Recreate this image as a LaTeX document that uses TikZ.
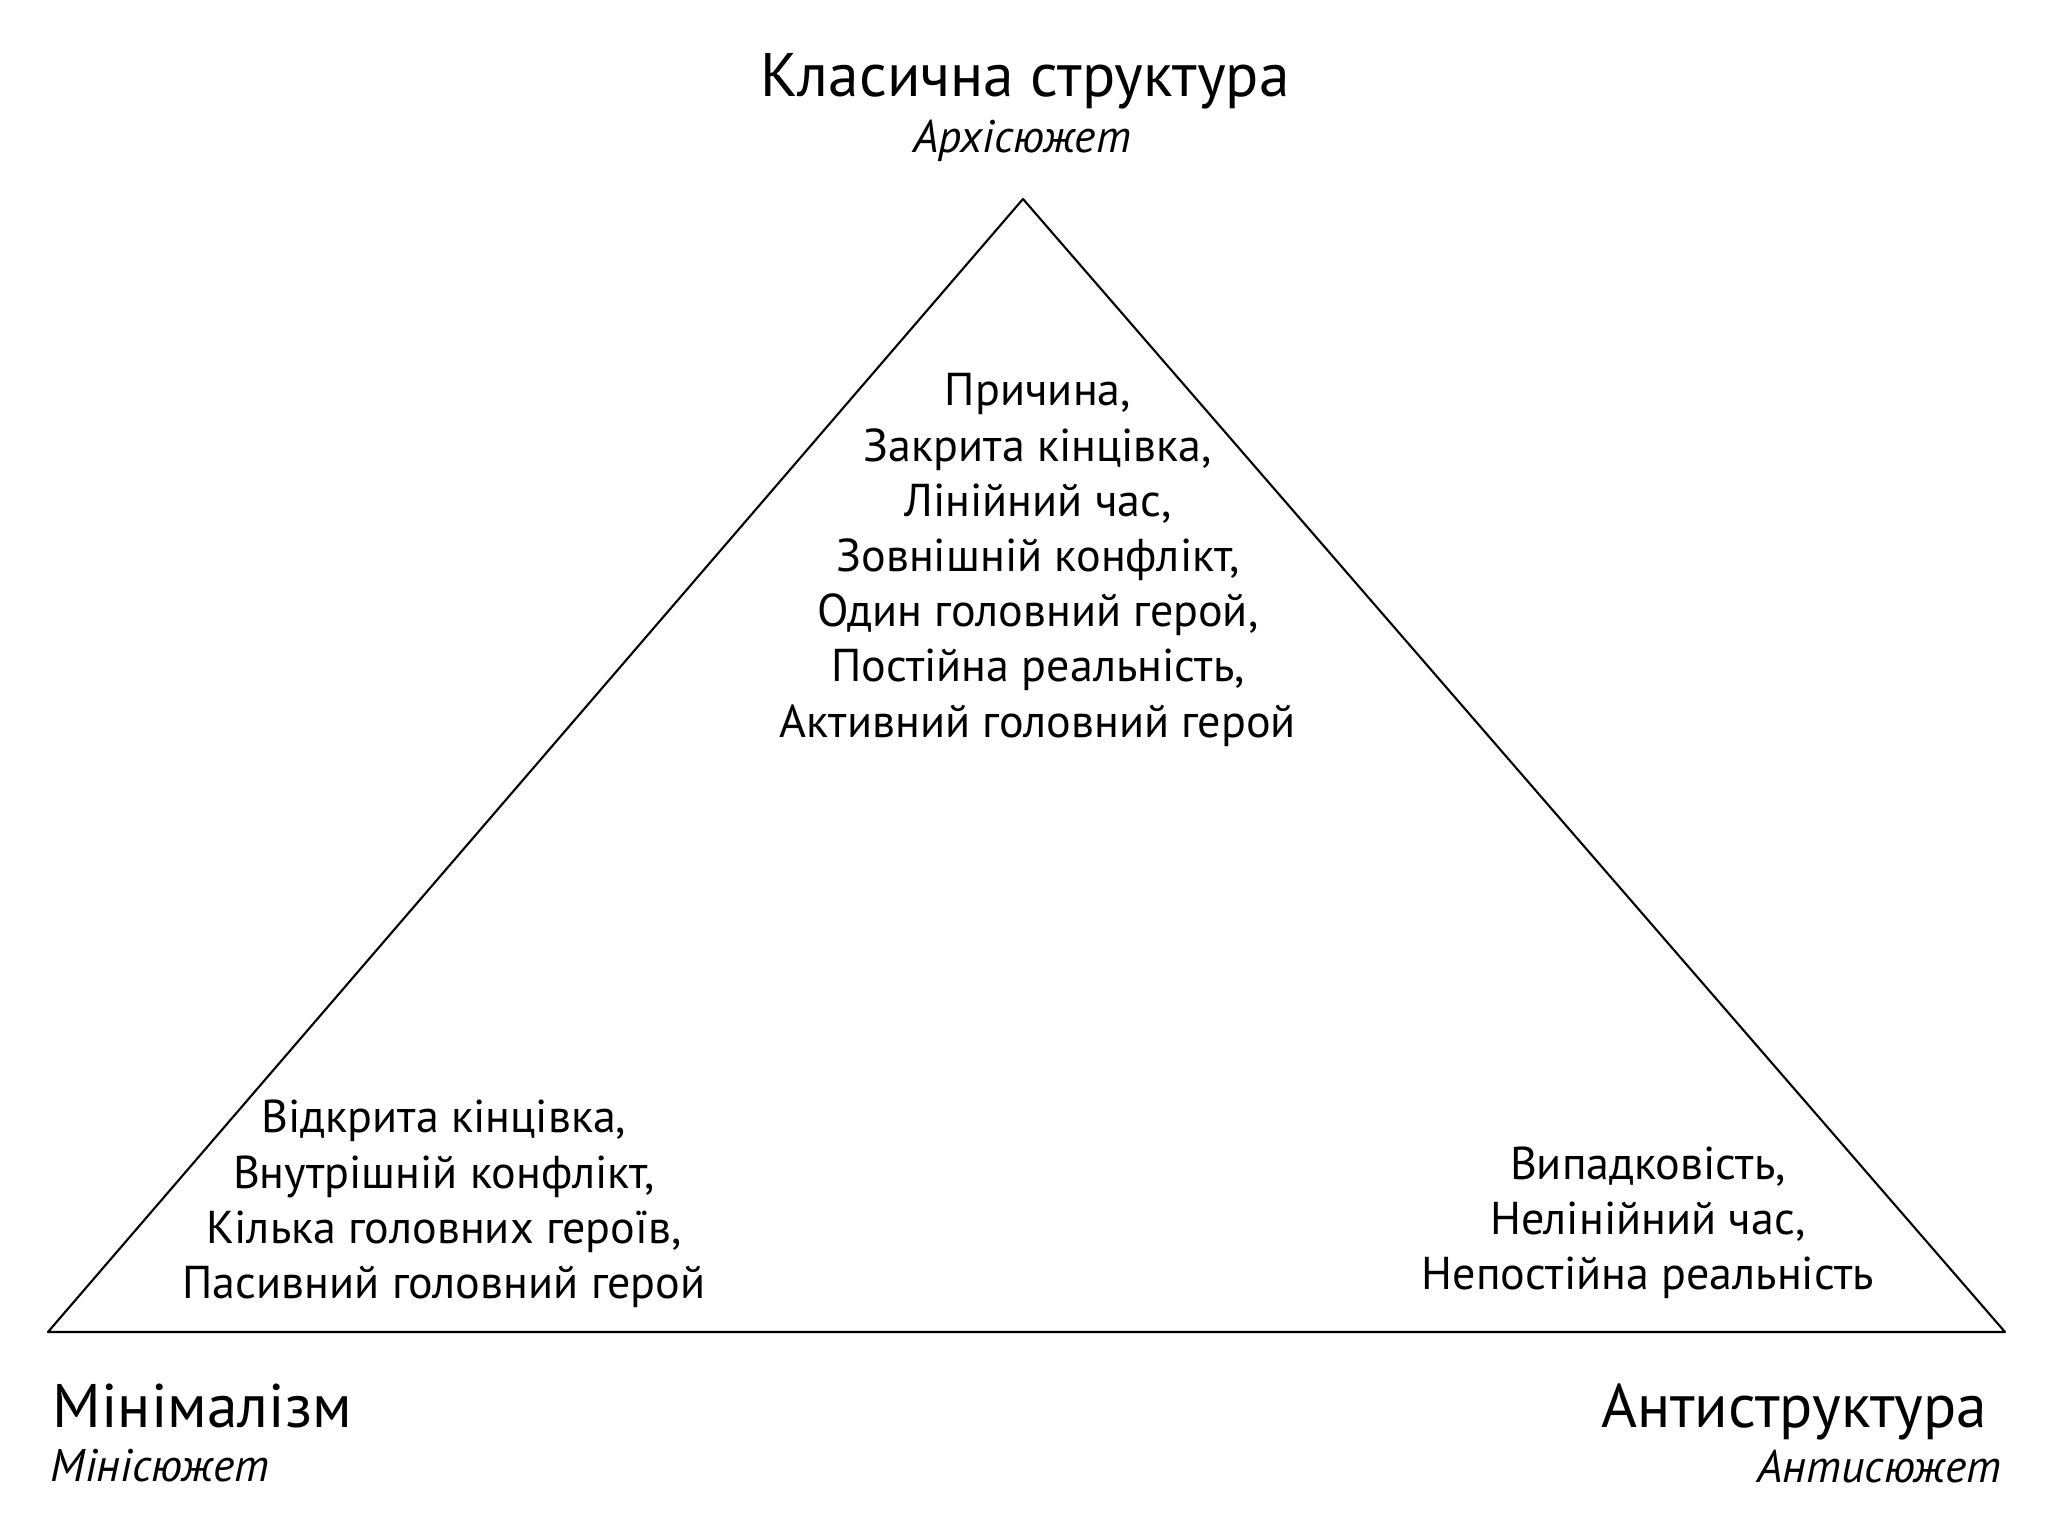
\documentclass[tikz,border=0pt]{standalone}
\usepackage{fontspec}
\setmainfont{PT Sans}
\usepackage{tikz}

\begin{document}
\begin{tikzpicture}[line cap=round,line join=round,
  heading/.style={inner sep=0pt,font=\fontsize{17.5}{20}\selectfont},
  subhead/.style={inner sep=0pt,font=\fontsize{13}{15}\selectfont\itshape},
  points/.style={inner sep=0pt,align=center,font=\fontsize{13.1}{15.7}\selectfont}]
\useasboundingbox (0,0) rectangle (20.48,15.36);
% corners of the pyramid
\coordinate (apex) at (10.23,13.37);
\coordinate (lcorner) at (0.48,2.04);
\coordinate (rcorner) at (20.05,2.04);
\draw[line width=0.6pt] (lcorner) -- (apex) -- (rcorner) -- cycle;
% top
\node[heading,anchor=base] (arch) at (10.25,14.39) {Класична структура};
\node[subhead,anchor=base] (archsub) at (10.22,13.83) {Архісюжет};
\node[points] (archlist) at (10.38,9.76) {Причина,\\Закрита кінцівка,\\Лінійний час,\\Зовнішній конфлікт,\\Один головний герой,\\Постійна реальність,\\Активний головний герой};
% left
\node[heading,anchor=base west] (mini) at (0.52,1.08) {Мінімалізм};
\node[subhead,anchor=base west] (minisub) at (0.50,0.54) {Мінісюжет};
\node[points] (minilist) at (4.44,3.32) {Відкрита кінцівка,\\Внутрішній конфлікт,\\Кілька головних героїв,\\Пасивний головний герой};
% right
\node[heading,anchor=base east] (anti) at (19.88,1.08) {Антиструктура};
\node[subhead,anchor=base east] (antisub) at (20.02,0.53) {Антисюжет};
\node[points] (antilist) at (16.48,3.13) {Випадковість,\\Нелінійний час,\\Непостійна реальність};
\end{tikzpicture}
\end{document}
